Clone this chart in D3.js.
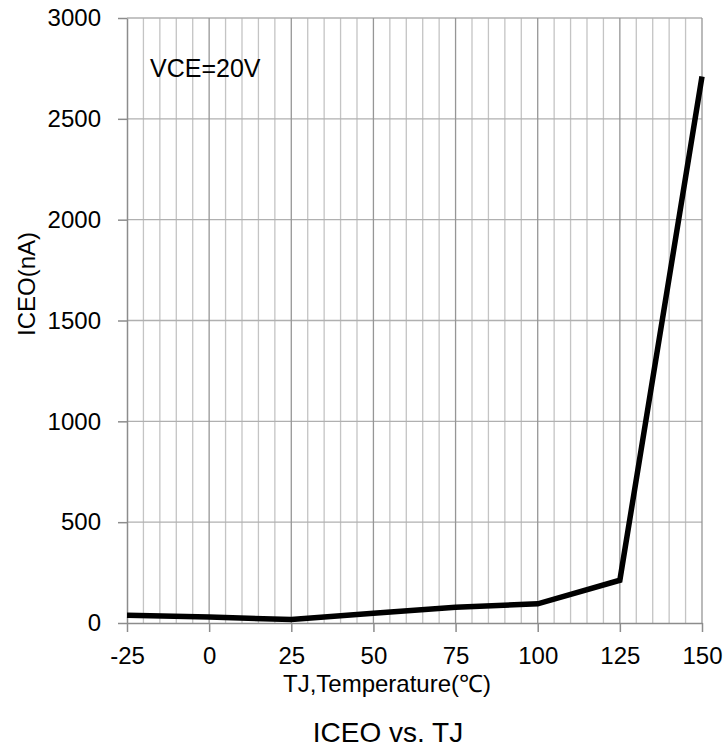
<!DOCTYPE html>
<html>
<head>
<meta charset="utf-8">
<script src="https://cdn.jsdelivr.net/npm/d3@7"></script>
<style>
  body { margin: 0; background: #fff; }
  text { font-family: "Liberation Sans", Arial, sans-serif; fill: #000; }
</style>
</head>
<body>
<div id="chart"></div>
<script>
// data
const temps = [-25, 0, 25, 50, 75, 100, 125, 150];
const iceo = [38, 30, 17, 48, 78, 95, 212, 2710];
const xTicks = [-25, 0, 25, 50, 75, 100, 125, 150];
const yTicks = [0, 500, 1000, 1500, 2000, 2500, 3000];

const width = 727, height = 751;
const margin = {top: 18, right: 25, bottom: 128, left: 127};

let svg = d3.select("#chart")
    .append("svg")
    .attr("width", width)
    .attr("height", height);

let x = d3.scaleLinear().domain([-25, 150]).range([margin.left, width - margin.right]);
let y = d3.scaleLinear().domain([0, 3000]).range([height - margin.bottom, margin.top]);

// minor vertical grid every 5 degrees
svg.append("g")
    .selectAll("line")
    .data(d3.range(-25, 151, 5).filter(d => (d + 25) % 25 !== 0))
    .enter().append("line")
    .attr("x1", d => x(d)).attr("x2", d => x(d))
    .attr("y1", y(0)).attr("y2", y(3000))
    .attr("stroke", "#c4c4c4")
    .attr("stroke-width", 1.3);

// horizontal grid
svg.append("g")
    .selectAll("line")
    .data(yTicks.slice(1))
    .enter().append("line")
    .attr("x1", x(-25)).attr("x2", x(150))
    .attr("y1", d => y(d)).attr("y2", d => y(d))
    .attr("stroke", "#b0b0b0")
    .attr("stroke-width", 1.3);

// major vertical grid
svg.append("g")
    .selectAll("line")
    .data(xTicks.slice(1))
    .enter().append("line")
    .attr("x1", d => x(d)).attr("x2", d => x(d))
    .attr("y1", y(0)).attr("y2", y(3000))
    .attr("stroke", "#969696")
    .attr("stroke-width", 1.3);

// axes
let xAxis = svg.append("g")
    .attr("transform", `translate(0,${y(0)})`)
    .call(d3.axisBottom(x).tickValues(xTicks).tickFormat(d => String(d))
        .tickSize(9).tickPadding(16).tickSizeOuter(0));
let yAxis = svg.append("g")
    .attr("transform", `translate(${x(-25)},0)`)
    .call(d3.axisLeft(y).tickValues(yTicks).tickFormat(d => String(d))
        .tickSize(9).tickPadding(16).tickSizeOuter(0));

[xAxis, yAxis].forEach(function (ax) {
    ax.select(".domain").attr("stroke", "#8c8c8c").attr("stroke-width", 1.5);
    ax.selectAll(".tick line").attr("stroke", "#8c8c8c").attr("stroke-width", 1.5);
    ax.selectAll(".tick text")
        .attr("font-size", 24)
        .attr("font-family", "Liberation Sans, Arial, sans-serif")
        .attr("fill", "#000");
});
xAxis.selectAll(".tick text").attr("dy", "0.71em").attr("y", 24);
yAxis.selectAll(".tick text").attr("x", -26);

// the curve
let line = d3.line()
    .x((d, i) => x(temps[i]))
    .y(d => y(d));

svg.append("path")
    .datum(iceo)
    .attr("d", line)
    .attr("fill", "none")
    .attr("stroke", "#000")
    .attr("stroke-width", 5.5)
    .attr("stroke-linejoin", "miter");

// labels
svg.append("text")
    .attr("x", 150).attr("y", 77)
    .attr("font-size", 25)
    .text("VCE=20V");

svg.append("text")
    .attr("x", 387).attr("y", 692)
    .attr("text-anchor", "middle")
    .attr("font-size", 24)
    .text("TJ,Temperature(℃)");

svg.append("text")
    .attr("transform", "translate(35,284) rotate(-90)")
    .attr("text-anchor", "middle")
    .attr("font-size", 24)
    .text("ICEO(nA)");

svg.append("text")
    .attr("x", 388).attr("y", 742)
    .attr("text-anchor", "middle")
    .attr("font-size", 28)
    .text("ICEO vs. TJ");
</script>
</body>
</html>
